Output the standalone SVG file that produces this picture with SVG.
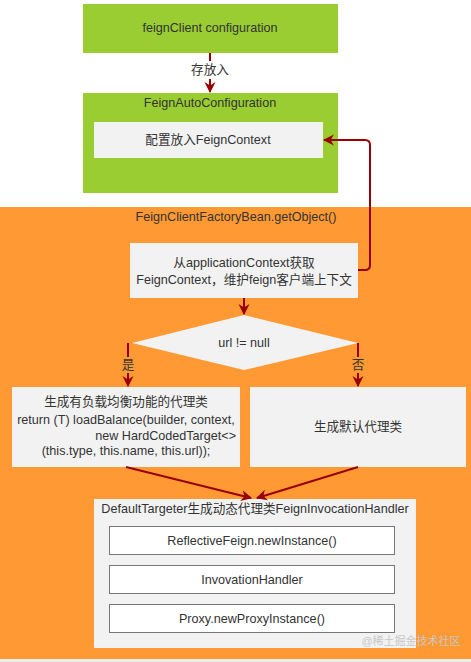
<svg xmlns="http://www.w3.org/2000/svg" width="471" height="662" viewBox="0 0 471 662">
<style>
text{font-family:"Liberation Sans",Arial,"Noto Sans CJK SC",sans-serif;font-size:12.6px;fill:#333;text-anchor:middle;dominant-baseline:central}
.g{fill:#9acd32}
.l{fill:#f2f2f2}
.w{fill:#fff;stroke:#777;stroke-width:1}
.c{fill:none;stroke:#990000;stroke-width:2;marker-end:url(#a)}
</style>
<defs>
<marker id="a" viewBox="0 0 10 10" refX="9" refY="5" markerWidth="5.5" markerHeight="6" orient="auto" markerUnits="strokeWidth">
<path d="M0,0 L10,5 L0,10 L3,5 Z" fill="#990000"/>
</marker>
</defs>
<rect x="0" y="0" width="471" height="662" fill="#fff"/>
<g id="getObject">
<rect x="0" y="207" width="471" height="453" fill="#ff9933"/>
<rect x="0" y="659" width="471" height="3" fill="#eeeeee"/>
<text x="236" y="217">FeignClientFactoryBean.getObject()</text>
</g>
<g id="feignClientConfig">
<rect class="g" x="83" y="4" width="255" height="49"/>
<text x="210" y="28">feignClient configuration</text>
</g>
<g id="feignAutoConfig">
<rect class="g" x="83" y="93" width="255" height="100"/>
<text x="210" y="103">FeignAutoConfiguration</text>
</g>
<g id="putContext">
<rect class="l" x="94" y="122" width="229" height="36"/>
<text x="208" y="140">配置放入FeignContext</text>
</g>
<g id="getContext">
<rect class="l" x="130" y="243" width="228" height="55"/>
<text x="244" y="263">从applicationContext获取</text>
<text x="244" y="280">FeignContext，维护feign客户端上下文</text>
</g>
<g id="urlCheck">
<polygon class="l" points="244,315 358,343 244,370 132,343"/>
<text x="244" y="343">url != null</text>
</g>
<g id="loadBalance">
<rect class="l" x="12" y="387" width="228" height="80"/>
<text x="126" y="402">生成有负载均衡功能的代理类</text>
<text x="126" y="420">return (T) loadBalance(builder, context,</text>
<text x="236" y="436" style="text-anchor:end">new HardCodedTarget&lt;&gt;</text>
<text x="126" y="451">(this.type, this.name, this.url));</text>
</g>
<g id="defaultProxy">
<rect class="l" x="250" y="387" width="216" height="80"/>
<text x="358" y="427">生成默认代理类</text>
</g>
<g id="defaultTargeter">
<rect class="l" x="94" y="499" width="322" height="149"/>
<text x="255" y="509">DefaultTargeter生成动态代理类FeignInvocationHandler</text>
</g>
<g id="reflectiveFeign">
<rect class="w" x="109.5" y="526.5" width="285" height="28"/>
<text x="252" y="541">ReflectiveFeign.newInstance()</text>
</g>
<g id="invocationHandler">
<rect class="w" x="109.5" y="565.5" width="285" height="28"/>
<text x="252" y="580">InvovationHandler</text>
</g>
<g id="proxyNew">
<rect class="w" x="109.5" y="604.5" width="285" height="28"/>
<text x="252" y="619">Proxy.newProxyInstance()</text>
</g>
<g id="connectors">
<path class="c" d="M210,53 L210,92"/>
<rect x="186" y="61" width="48" height="18" fill="#fff"/>
<text x="210" y="70">存放入</text>
<path class="c" d="M358,270 L365,270 Q370,270 370,265 L370,145 Q370,140 365,140 L324,140"/>
<path class="c" d="M244,298 L244,314"/>
<path class="c" d="M128,343 L128,386"/>
<rect x="119" y="357" width="18" height="16" fill="#ff9933"/>
<text x="128" y="365">是</text>
<path class="c" d="M358,343 L358,386"/>
<rect x="349" y="357" width="18" height="16" fill="#ff9933"/>
<text x="358" y="365">否</text>
<path class="c" d="M126,467 L251,498"/>
<path class="c" d="M358,467 L257,498"/>
</g>
<text x="411" y="641" style="fill:#c8c8c8;font-size:11px">@稀土掘金技术社区</text>
</svg>
